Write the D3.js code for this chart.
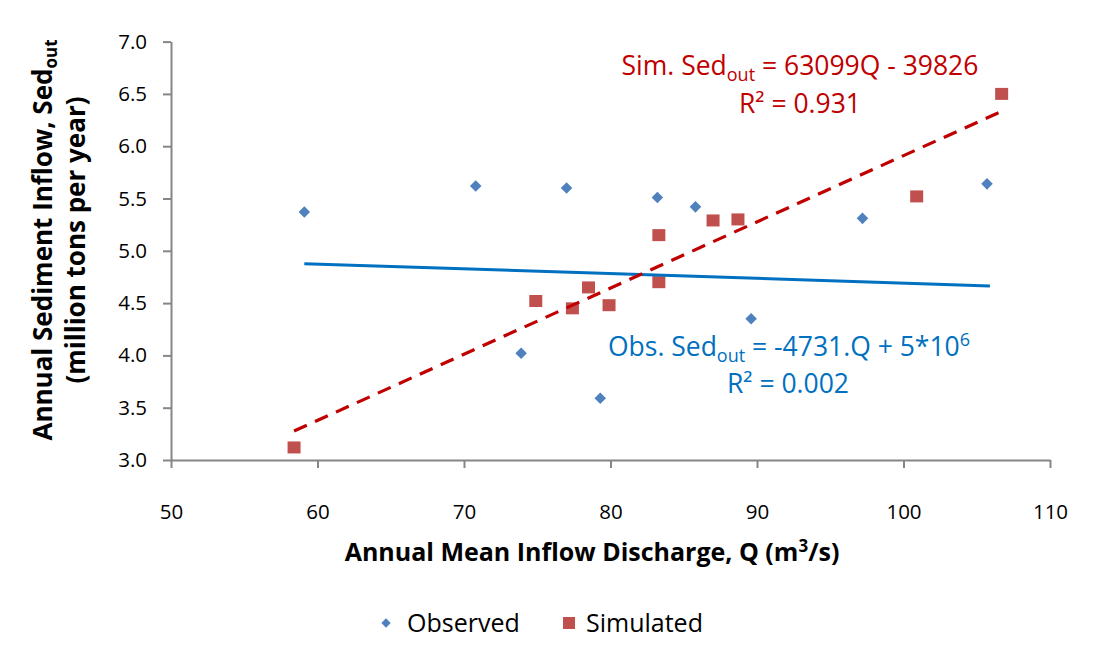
<!DOCTYPE html>
<meta charset="utf-8">
<script src="https://d3js.org/d3.v7.min.js"></script>
<style>
  body { margin: 0; background: #fff; }
  text { font-family: "Open Sans", Lato, sans-serif; }
</style>
<div id="my_dataviz"></div>
<script>
// observed points (Q, Sed)
var obsQ   = [59.1, 70.8, 73.9, 77.0, 79.3, 83.2, 85.8, 89.6, 97.2, 105.7];
var obsSed = [5.37, 5.62, 4.02, 5.60, 3.59, 5.51, 5.42, 4.35, 5.31, 5.64];
// simulated points
var simQ   = [58.4, 74.9, 77.4, 78.5, 79.9, 83.3, 83.3, 87.0, 88.7, 100.9, 106.7];
var simSed = [3.12, 4.52, 4.45, 4.65, 4.48, 5.15, 4.70, 5.29, 5.30, 5.52, 6.50];
// trend line end points, as drawn in the chart
var obsTrend = [[59.1, 4.877], [105.9, 4.664]];
var simTrend = [[58.4, 3.277], [106.8, 6.34]];
var xTicks = [50, 60, 70, 80, 90, 100, 110];
var yTicks = [3.0, 3.5, 4.0, 4.5, 5.0, 5.5, 6.0, 6.5, 7.0];

var W = 1098, H = 656;
var svg = d3.select("#my_dataviz").append("svg")
    .attr("width", W).attr("height", H);

var x = d3.scaleLinear().domain([50, 110]).range([171, 1050]);
var y = d3.scaleLinear().domain([3, 7]).range([460, 41.6]);

var axisColor = "#868686";

// axes
var xAxis = svg.append("g")
    .attr("transform", "translate(0," + y(3) + ")")
    .call(d3.axisBottom(x).tickValues(xTicks).tickSize(8).tickSizeOuter(0).tickPadding(36));
var yAxis = svg.append("g")
    .attr("transform", "translate(" + x(50) + ",0)")
    .call(d3.axisLeft(y).tickValues(yTicks).tickFormat(d3.format(".1f")).tickSize(8).tickSizeOuter(0).tickPadding(16));
[xAxis, yAxis].forEach(function(a) {
  a.select(".domain").attr("stroke", axisColor).attr("stroke-width", 2);
  a.selectAll(".tick line").attr("stroke", axisColor).attr("stroke-width", 2);
  a.selectAll(".tick text").attr("font-size", 20.5).attr("fill", "#000")
    .style("font-family", "'Open Sans', sans-serif");
});

var line = d3.line().x(function(d) { return x(d[0]); }).y(function(d) { return y(d[1]); });

// observed points
svg.append("g").selectAll("path")
  .data(obsQ).enter().append("path")
    .attr("d", d3.symbol().type(d3.symbolDiamond2).size(85))
    .attr("transform", function(d, i) { return "translate(" + x(d) + "," + y(obsSed[i]) + ")"; })
    .attr("fill", "#4F81BD");

// simulated points
svg.append("g").selectAll("rect")
  .data(simQ).enter().append("rect")
    .attr("x", function(d) { return x(d) - 6.5; })
    .attr("y", function(d, i) { return y(simSed[i]) - 6; })
    .attr("width", 13).attr("height", 12)
    .attr("fill", "#C0504D");

// trend lines
svg.append("path").attr("d", line(obsTrend))
  .attr("stroke", "#0070C0").attr("stroke-width", 3).attr("fill", "none");
svg.append("path").attr("d", line(simTrend))
  .attr("stroke", "#C00000").attr("stroke-width", 3.2).attr("fill", "none")
  .attr("stroke-dasharray", "14,9");

// equations
var sim = svg.append("text").attr("x", 800).attr("y", 75).attr("text-anchor", "middle")
  .attr("font-size", 26.5).attr("fill", "#C00000");
sim.append("tspan").text("Sim. Sed");
sim.append("tspan").attr("font-size", 18).attr("dy", 6).text("out");
sim.append("tspan").attr("dy", -6).text(" = 63099Q - 39826");
svg.append("text").attr("x", 800).attr("y", 113).attr("text-anchor", "middle")
  .attr("font-size", 26.5).attr("fill", "#C00000").text("R² = 0.931");

var obs = svg.append("text").attr("x", 789).attr("y", 356).attr("text-anchor", "middle")
  .attr("font-size", 26.5).attr("fill", "#0070C0");
obs.append("tspan").text("Obs. Sed");
obs.append("tspan").attr("font-size", 18).attr("dy", 6).text("out");
obs.append("tspan").attr("dy", -6).text(" = -4731.Q + 5*10");
obs.append("tspan").attr("font-size", 18).attr("dy", -10).text("6");
svg.append("text").attr("x", 788).attr("y", 393).attr("text-anchor", "middle")
  .attr("font-size", 26.5).attr("fill", "#0070C0").text("R² = 0.002");

// axis titles
var xt = svg.append("text").attr("x", 592).attr("y", 561).attr("text-anchor", "middle")
  .attr("font-size", 25).attr("font-weight", "bold");
xt.append("tspan").text("Annual Mean Inflow Discharge, Q (m");
xt.append("tspan").attr("font-size", 17).attr("dy", -9).text("3");
xt.append("tspan").attr("dy", 9).text("/s)");

var yt = svg.append("text").attr("transform", "translate(52,240) rotate(-90)")
  .attr("text-anchor", "middle").attr("font-size", 26).attr("font-weight", "bold");
yt.append("tspan").text("Annual Sediment Inflow, Sed");
yt.append("tspan").attr("font-size", 17).attr("dy", 5).text("out");
svg.append("text").attr("transform", "translate(85,240) rotate(-90)")
  .attr("text-anchor", "middle").attr("font-size", 26).attr("font-weight", "bold")
  .text("(million tons per year)");

// legend
svg.append("path").attr("d", d3.symbol().type(d3.symbolDiamond2).size(55))
  .attr("transform", "translate(386,623)").attr("fill", "#4F81BD");
svg.append("text").attr("x", 407).attr("y", 632).attr("font-size", 25).text("Observed");
svg.append("rect").attr("x", 563).attr("y", 617).attr("width", 12).attr("height", 12).attr("fill", "#C0504D");
svg.append("text").attr("x", 586).attr("y", 632).attr("font-size", 25).text("Simulated");
</script>
